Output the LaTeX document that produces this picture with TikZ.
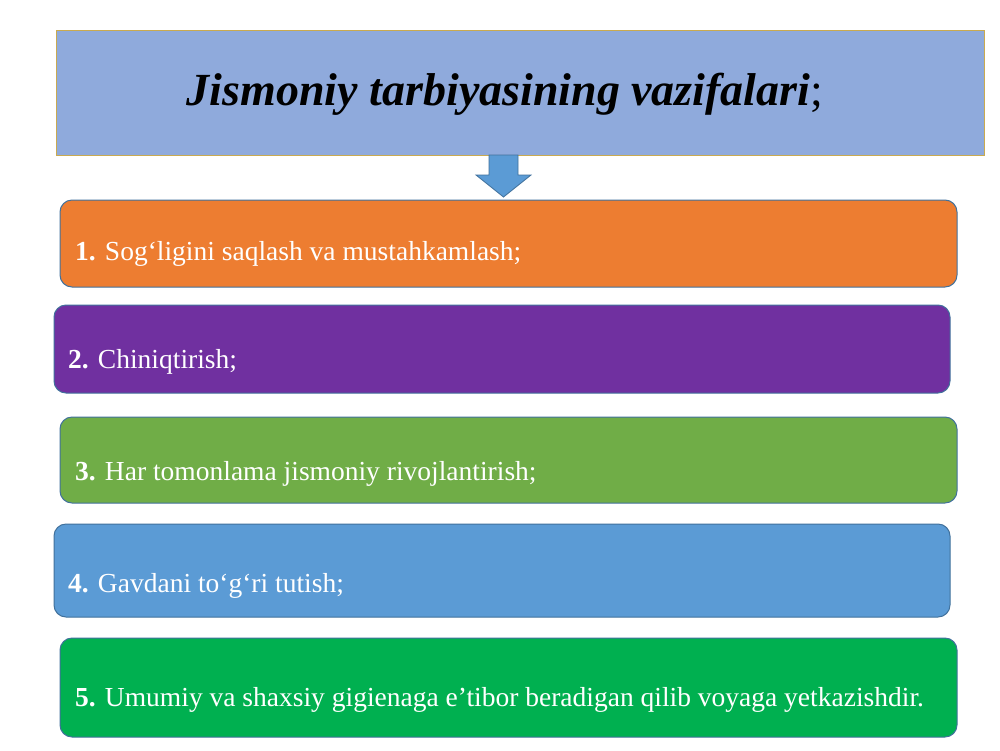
\documentclass[tikz,border=0pt]{standalone}
\usepackage{fontspec}
\setmainfont{Liberation Serif}
\definecolor{titlefill}{RGB}{143,170,220}
\definecolor{titleline}{RGB}{201,170,80}
\definecolor{orangefill}{RGB}{237,125,49}
\definecolor{purplefill}{RGB}{112,48,160}
\definecolor{greenfill}{RGB}{112,173,71}
\definecolor{bluefill}{RGB}{91,155,213}
\definecolor{brightgreen}{RGB}{0,176,80}
\definecolor{edgeblue}{RGB}{65,113,156}
\tikzset{
  item/.style={draw=edgeblue, line width=1pt, rounded corners=12pt},
  itemtext/.style={anchor=base west, text=white, font=\fontsize{27.5}{32}\selectfont, inner sep=0pt},
}
\begin{document}
\begin{tikzpicture}[x=1pt,y=-1pt]
\useasboundingbox (0,0) rectangle (1000,750);
\fill[white] (0,0) rectangle (1000,750);
% title
\draw[fill=titlefill, draw=titleline, line width=1pt] (56,30) rectangle (984,155);
\node (title) [anchor=base, inner sep=0pt, font=\fontsize{46}{50}\selectfont] at (505,105) {\textbf{\textit{Jismoniy tarbiyasining vazifalari}};};
% arrow
\draw[fill=bluefill, draw=edgeblue, line width=0.8pt] (489,155) -- (518,155) -- (518,175) -- (531,175) -- (503.5,197) -- (476,175) -- (489,175) -- cycle;
% boxes
\draw[item, fill=orangefill] (60,200) rectangle (957,287);
\node (t1) [itemtext] at (75,260) {\textbf{1.} Sog‘ligini saqlash va mustahkamlash;};
\draw[item, fill=purplefill] (54,305) rectangle (950,393);
\node (t2) [itemtext] at (68,368) {\textbf{2.} Chiniqtirish;};
\draw[item, fill=greenfill] (60,417) rectangle (957,503);
\node (t3) [itemtext] at (75,480) {\textbf{3.} Har tomonlama jismoniy rivojlantirish;};
\draw[item, fill=bluefill] (54,524) rectangle (950,617);
\node (t4) [itemtext] at (68,592) {\textbf{4.} Gavdani to‘g‘ri tutish;};
\draw[item, fill=brightgreen] (60,638) rectangle (957,737);
\node (t5) [itemtext] at (75,706) {\textbf{5.} Umumiy va shaxsiy gigienaga e’tibor beradigan qilib voyaga yetkazishdir.};
\end{tikzpicture}
\end{document}
